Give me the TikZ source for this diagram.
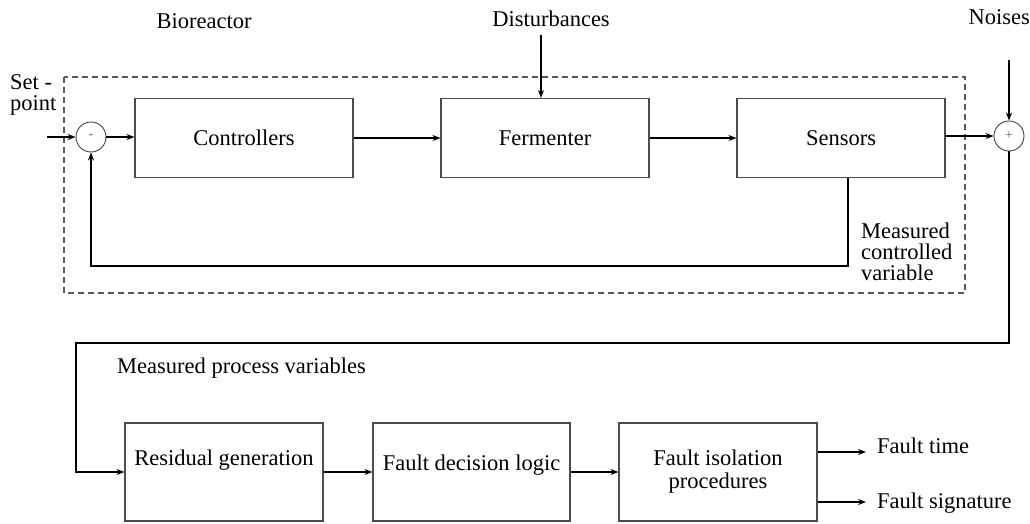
\documentclass[tikz,border=0pt]{standalone}
\usepackage{fontspec}
\setmainfont{Liberation Serif}
\newfontfamily\tnr{Liberation Serif}
\usetikzlibrary{arrows.meta,calc}
\begin{document}
\begin{tikzpicture}[x=1pt,y=-1pt,
  every node/.style={font=\tnr\fontsize{22.5}{21}\selectfont},
  blockbox/.style={draw=black!70,line width=1.1pt,minimum height=79pt,inner sep=0pt},
  lowbox/.style={draw=black!70,line width=1.1pt,minimum height=98pt,minimum width=198pt,inner sep=0pt},
  sumnode/.style={circle,draw=black!75,line width=0.9pt,minimum size=30pt,inner sep=0pt,font=\tnr\fontsize{14}{14}\selectfont,text=black!60},
  arr/.style={line width=1.8pt,-{Stealth[length=8pt,width=6pt]}},
  lbl/.style={inner sep=0pt,align=left},
  frame/.style={draw=black!65,line width=1.1pt,dash pattern=on 6pt off 4pt}]
\useasboundingbox (0,0) rectangle (1030,523);
\draw[frame] (64,77) rectangle (965,293);
% nodes
\node[sumnode] (minus) at (91,137) {-};
\node[blockbox,minimum width=218pt] (ctrl) at (244,138) {Controllers};
\node[blockbox,minimum width=208pt] (ferm) at (545,138) {Fermenter};
\node[blockbox,minimum width=208pt] (sens) at (841,138) {Sensors};
\node[sumnode] (plus) at (1009,136) {+};
\node[lowbox] (res) at (224,472) {};
\node[lbl] (rest) at (224,460) {Residual generation};
\node[lowbox,minimum width=197pt] (dec) at (471.5,472) {};
\node[lbl] (dect) at (471.5,465) {Fault decision logic};
\node[lowbox] (iso) at (718,472) {};
\node[lbl,align=center,font=\tnr\fontsize{22.5}{23}\selectfont] (isot) at (718,472) {Fault isolation\\procedures};
% labels
\node[lbl] (bio) at (204,21) {Bioreactor};
\node[lbl] (distl) at (551,19) {Disturbances};
\node[lbl,anchor=east] (noil) at (1030,17) {Noises};
\node[lbl,anchor=west,font=\tnr\fontsize{22.5}{21}\selectfont] (setl) at (10,95) {Set -\\point};
\node[lbl,anchor=west,font=\tnr\fontsize{22.5}{21}\selectfont] (mcv) at (861,252) {Measured\\controlled\\variable};
\node[lbl,anchor=west] (mpv) at (117,368) {Measured process variables};
\node[lbl,anchor=base west] (ftl) at (877,453) {Fault time};
\node[lbl,anchor=base west] (fsl) at (877,508) {Fault signature};
% coordinates
\coordinate (sp) at (47,137);
\coordinate (dist) at (541,35);
\coordinate (noi) at (1009,60);
\coordinate (fb) at (848,266);
\coordinate (c1) at (1009,343);
\coordinate (c2) at (76,343);
\coordinate (ft) at (866,452);
\coordinate (fs) at (866,502);
% connectors
\draw[arr] (sp) -- (minus.west);
\draw[arr] (minus.east) -- (minus.east -| ctrl.west);
\draw[arr] (ctrl.east) -- (ferm.west);
\draw[arr] (ferm.east) -- (sens.west);
\draw[arr] (sens.east |- plus.west) -- (plus.west);
\draw[arr] (dist) -- (dist |- ferm.north);
\draw[arr] (noi) -- (plus.north);
\draw[arr] (sens.south -| fb) -- (fb) -| (minus.south);
\draw[arr] (plus.south) -- (c1) -- (c2) |- (res.west);
\draw[arr] (res.east) -- (dec.west);
\draw[arr] (dec.east) -- (iso.west);
\draw[arr] (iso.east |- ft) -- (ft);
\draw[arr] (iso.east |- fs) -- (fs);
\end{tikzpicture}
\end{document}
